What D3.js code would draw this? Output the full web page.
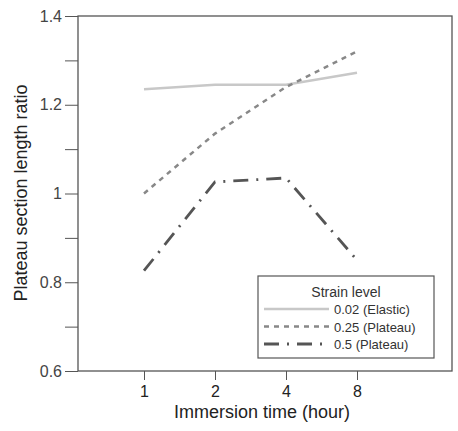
<!DOCTYPE html>
<html><head><meta charset="utf-8">
<script src="https://d3js.org/d3.v7.min.js"></script>
<style>body{margin:0;background:#fff}svg{font-family:"Liberation Sans",Arial,sans-serif}</style>
</head><body><svg id="c" width="458" height="431"></svg>
<script>
const categories = ["1","2","4","8"];
const elastic = [1.235, 1.245, 1.245, 1.272];
const plateau25 = [1.0, 1.135, 1.24, 1.32];
const plateau5 = [0.826, 1.026, 1.035, 0.85];
const seriesNames = ["0.02 (Elastic)","0.25 (Plateau)","0.5 (Plateau)"];
const yTicks = [0.6,0.7,0.8,0.9,1.0,1.1,1.2,1.3,1.4];
const yLabels = {"0.6":"0.6","0.8":"0.8","1":"1","1.2":"1.2","1.4":"1.4"};

const svg = d3.select("#c");
const L=78,T=16,R=452,B=371;
const x = d3.scalePoint().domain(categories).range([144,357]);
const y = d3.scaleLinear().domain([0.6,1.4]).range([B,T]);
svg.append("rect").attr("x",L).attr("y",T).attr("width",R-L).attr("height",B-T).attr("fill","none").attr("stroke","#555").attr("stroke-width",1.3);
const ya = svg.append("g").attr("transform",`translate(${L},0)`).call(d3.axisLeft(y).tickValues(yTicks).tickSize(13).tickPadding(3).tickFormat(d=>yLabels[String(+d.toFixed(1))]||""));
ya.select(".domain").remove();
ya.selectAll("line").attr("stroke","#555");
ya.selectAll("text").attr("font-size",16).attr("fill","#444");
const xa = svg.append("g").attr("transform",`translate(0,${B})`).call(d3.axisBottom(x).tickSize(9).tickPadding(6));
xa.select(".domain").remove();
xa.selectAll("line").attr("stroke","#555");
xa.selectAll("text").attr("font-size",16).attr("fill","#222");
svg.append("text").attr("x",262).attr("y",418).attr("text-anchor","middle").attr("font-size",18).attr("fill","#222").text("Immersion time (hour)");
svg.append("text").attr("transform","translate(27,193) rotate(-90)").attr("text-anchor","middle").attr("font-size",18).attr("fill","#222").text("Plateau section length ratio");

const styles=[{c:"#c8c8c8",d:null,w:2.5},{c:"#888",d:"5,5",w:2.5},{c:"#555",d:"15,8,2,8",w:2.8}];
const data=[elastic,plateau25,plateau5];
const line=d3.line().x((d,i)=>x(categories[i])).y(d=>y(d));
data.forEach((s,i)=>{
  svg.append("path").attr("d",line(s)).attr("fill","none").attr("stroke",styles[i].c).attr("stroke-width",styles[i].w).attr("stroke-dasharray",styles[i].d);
});
const lg=svg.append("g");
lg.append("rect").attr("x",258).attr("y",276).attr("width",176).attr("height",82).attr("fill","#fff").attr("stroke","#555").attr("stroke-width",1.2);
lg.append("text").attr("x",346).attr("y",297).attr("text-anchor","middle").attr("font-size",14).attr("fill","#333").text("Strain level");
seriesNames.forEach((n,i)=>{
  const yy=309+i*17.5;
  lg.append("line").attr("x1",264).attr("x2",329).attr("y1",yy).attr("y2",yy).attr("stroke",styles[i].c).attr("stroke-width",styles[i].w).attr("stroke-dasharray",styles[i].d);
  lg.append("text").attr("x",334).attr("y",yy+5).attr("font-size",13).attr("fill","#333").text(n);
});
</script></body></html>
